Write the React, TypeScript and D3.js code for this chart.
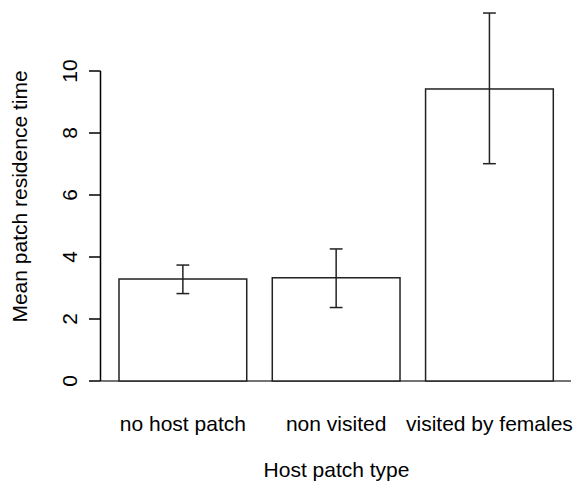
import React from "react";
import * as d3 from "d3";

const categories = ["no host patch", "non visited", "visited by females"];
const means = [3.29, 3.33, 9.42];
const lower = [2.82, 2.37, 7.01];
const upper = [3.74, 4.26, 11.87];
const yTicks = [0, 2, 4, 6, 8, 10];
const xTitle = "Host patch type";
const yTitle = "Mean patch residence time";

const W = 574;
const H = 483;
const FONT = "'Liberation Sans', Arial, Helvetica, sans-serif";
const FS = 21;

export default function App() {
  const y = d3.scaleLinear().domain([0, 10]).range([381, 71]);
  const x = d3
    .scaleBand<string>()
    .domain(categories)
    .range([119, 553.3])
    .paddingInner(0.2 / 1.2)
    .paddingOuter(0);
  const axisX = 100.5;
  const cap = 6.4;
  const stroke = "#222";
  return (
    <svg
      width={W}
      height={H}
      style={{ position: "absolute", left: 0, top: 0, background: "#fff" }}
      fontFamily={FONT}
      fontSize={FS}
    >
      <rect x={0} y={0} width={W} height={H} fill="#fff" />
      {/* baseline */}
      <line x1={axisX} x2={571} y1={y(0)} y2={y(0)} stroke="#444" strokeWidth={1.5} />
      {/* bars */}
      {categories.map((c, i) => (
        <rect
          key={c}
          x={x(c)}
          y={y(means[i])}
          width={x.bandwidth()}
          height={y(0) - y(means[i])}
          fill="#fff"
          stroke={stroke}
          strokeWidth={1.5}
        />
      ))}
      {/* error bars */}
      {categories.map((c, i) => {
        const cx = (x(c) as number) + x.bandwidth() / 2;
        return (
          <g key={"e" + c} stroke={stroke} strokeWidth={1.5}>
            <line x1={cx} x2={cx} y1={y(upper[i])} y2={y(lower[i])} />
            <line x1={cx - cap} x2={cx + cap} y1={y(upper[i])} y2={y(upper[i])} />
            <line x1={cx - cap} x2={cx + cap} y1={y(lower[i])} y2={y(lower[i])} />
          </g>
        );
      })}
      {/* y axis */}
      <line x1={axisX} x2={axisX} y1={y(10)} y2={y(0)} stroke="#000" strokeWidth={1.5} />
      {yTicks.map((t) => (
        <g key={t}>
          <line x1={89} x2={axisX} y1={y(t)} y2={y(t)} stroke="#000" strokeWidth={1.5} />
          <text
            transform={`translate(${76.5},${y(t)}) rotate(-90)`}
            textAnchor="middle"
            fill="#000"
          >
            {t}
          </text>
        </g>
      ))}
      {/* category labels */}
      {categories.map((c) => (
        <text
          key={"l" + c}
          x={(x(c) as number) + x.bandwidth() / 2}
          y={430.5}
          textAnchor="middle"
          fill="#000"
        >
          {c}
        </text>
      ))}
      <text x={336.5} y={477} textAnchor="middle" fill="#000">
        {xTitle}
      </text>
      <text
        transform={`translate(${27},${196.5}) rotate(-90)`}
        textAnchor="middle"
        fill="#000"
      >
        {yTitle}
      </text>
    </svg>
  );
}
